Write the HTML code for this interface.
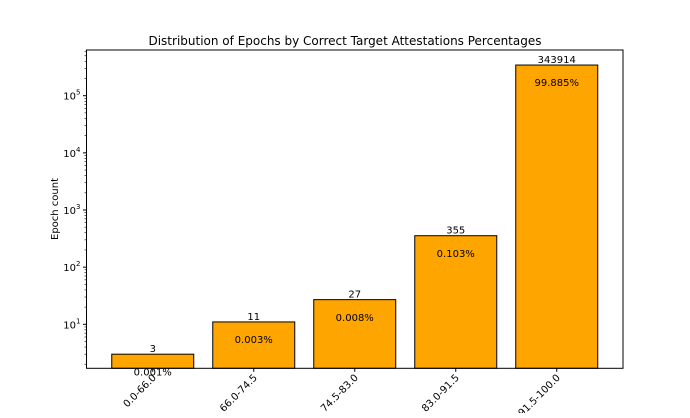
<!DOCTYPE html>
<html><head><meta charset="utf-8"><style>
body{margin:0;background:#fff}
svg{font-family:"DejaVu Sans","Liberation Sans",sans-serif}
</style></head><body>
<svg width="690" height="413" viewBox="0 0 690 413">
<text x="345" y="45" font-size="12" text-anchor="middle">Distribution of Epochs by Correct Target Attestations Percentages</text>
<text transform="translate(58,209) rotate(-90)" font-size="10" text-anchor="middle">Epoch count</text>
<g id="plot"></g>
<rect x="86.5" y="50" width="536.5" height="318.3" fill="none" stroke="#000" stroke-width="1"/>
</svg>
<script>
const categories=["0.0-66.0","66.0-74.5","74.5-83.0","83.0-91.5","91.5-100.0"];
const counts=[3,11,27,355,343914];
const percents=["0.001%","0.003%","0.008%","0.103%","99.885%"];
const yTicks=[1,2,3,4,5];
const L=86.5,R=623,T=50,B=368.3;
const y10=324.3,dec=57.15;
function y(v){return y10-(Math.log10(v)-1)*dec;}
const step=(R-L)/5.04, bw=82;
function xc(i){return L+ (R-L)/2 + (i-2)*101;}
const g=document.getElementById('plot');
const NS='http://www.w3.org/2000/svg';
function mk(t,a,txt){const e=document.createElementNS(NS,t);for(const k in a)e.setAttribute(k,a[k]);if(txt!==undefined)e.textContent=txt;g.appendChild(e);return e;}
yTicks.forEach(p=>{
 const yy=y(Math.pow(10,p));
 const l=mk('line',{x1:L-3.5,x2:L,y1:yy,y2:yy,stroke:'#000'});
 
 
 const t=mk('text',{x:L-6,y:yy+4,'font-size':10,'text-anchor':'end'});
 
 
 t.innerHTML='10<tspan dy="-5" font-size="7">'+p+'</tspan>';
});
for(let p=0;p<=5;p++)for(let m=2;m<=9;m++){
 const yy=y(m*Math.pow(10,p));
 if(yy<T||yy>B)continue;
 const l=mk('line',{x1:L-2,x2:L,y1:yy,y2:yy,stroke:'#000','stroke-width':0.6});
 
 
}
counts.forEach((c,i)=>{
 const x=xc(i),top=y(c);
 const r=mk('rect',{x:x-bw/2,y:top,width:bw,height:B-top,fill:'#ffa500',stroke:'#000','stroke-width':1});
 
 
 const t=mk('text',{x:x,y:top-2,'font-size':10,'text-anchor':'middle'},String(c));
 
 
 const p=mk('text',{x:x,y:y(c/2)+4,'font-size':10,'text-anchor':'middle'},percents[i]);
 
 
 const tk=mk('line',{x1:x,x2:x,y1:B,y2:B+3.5,stroke:'#000'});
 
 
 const xl=mk('text',{transform:`translate(${x+4},${B+10}) rotate(-45)`,'font-size':10,'text-anchor':'end'},categories[i]);
 
 
});
</script>
</body></html>
